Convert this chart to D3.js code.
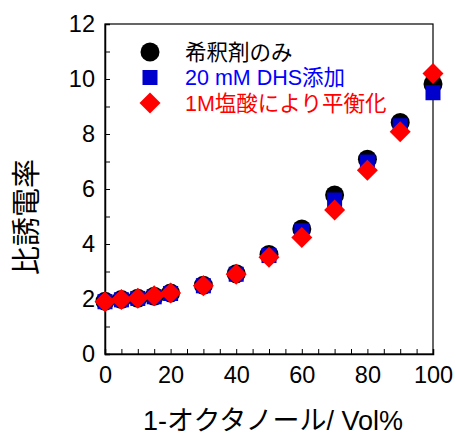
<!DOCTYPE html>
<html>
<head>
<meta charset="utf-8">
<script src="https://cdn.jsdelivr.net/npm/d3@7"></script>
<style>
  body { margin: 0; background: #fff; }
  text { font-family: "Liberation Sans", Arial, "Noto Sans CJK JP", sans-serif; }
</style>
</head>
<body>
<svg id="chart" width="456" height="436"></svg>
<script>
// データ
const octanol = [0, 5, 10, 15, 20, 30, 40, 50, 60, 70, 80, 90, 100];
const diluentOnly = [1.92, 1.98, 2.03, 2.1, 2.22, 2.5, 2.92, 3.62, 4.55, 5.78, 7.08, 8.42, 9.82];
const withDHS = [1.9, 1.97, 2.02, 2.08, 2.2, 2.48, 2.9, 3.58, 4.48, 5.6, 6.98, 8.3, 9.5];
const withHCl = [1.9, 1.98, 2.03, 2.12, 2.22, 2.48, 2.9, 3.52, 4.24, 5.24, 6.68, 8.08, 10.2];
const seriesNames = ["希釈剤のみ", "20 mM DHS添加", "1M塩酸により平衡化"];
const xTicks = [0, 20, 40, 60, 80, 100];
const yTicks = [0, 2, 4, 6, 8, 10, 12];

const M = { left: 105, right: 433, top: 24, bottom: 354 };
const svg = d3.select("#chart");

const x = d3.scaleLinear().domain([0, 100]).range([M.left, M.right]);
const y = d3.scaleLinear().domain([0, 12]).range([M.bottom, M.top]);

// 枠
svg.append("rect")
    .attr("x", M.left).attr("y", M.top)
    .attr("width", M.right - M.left).attr("height", M.bottom - M.top)
    .attr("fill", "none").attr("stroke", "#000").attr("stroke-width", 1.2);

// 軸（目盛りは内向き）
const xAxis = svg.append("g").attr("transform", `translate(0,${M.bottom})`)
    .call(d3.axisBottom(x).tickValues(d3.range(0, 101, 5)).tickSize(-5)
        .tickFormat(d => xTicks.includes(d) ? d : ""));
const yAxis = svg.append("g").attr("transform", `translate(${M.left},0)`)
    .call(d3.axisLeft(y).tickValues(d3.range(0, 13, 1)).tickSize(-5)
        .tickFormat(d => yTicks.includes(d) ? d : ""));

[xAxis, yAxis].forEach(g => {
    g.select(".domain").attr("stroke", "#000").attr("stroke-width", 1.5);
    g.selectAll(".tick line").attr("stroke", "#000");
    g.selectAll(".tick text").attr("font-size", 23.5).attr("fill", "#000")
        .style("font-family", "'Liberation Sans', Arial, sans-serif");
});
xAxis.selectAll(".tick text").attr("y", 12);
yAxis.selectAll(".tick text").attr("x", -10);

// 軸タイトル
svg.append("text")
    .attr("x", 273).attr("y", 430)
    .attr("text-anchor", "middle").attr("font-size", 27)
    .text("1-オクタノール/ Vol%");
svg.append("text")
    .attr("transform", "translate(37,217) rotate(-90)")
    .attr("text-anchor", "middle").attr("font-size", 29)
    .text("比誘電率");

// マーカー
const diamond = "M0,-10.5L10.5,0L0,10.5L-10.5,0Z";
const markers = [
    { data: diluentOnly, color: "#000", text: "#000",
      shape: g => g.append("circle").attr("r", 9.5) },
    { data: withDHS, color: "#0000cc", text: "#0000ff",
      shape: g => g.append("rect").attr("x", -7.5).attr("y", -7.5).attr("width", 15).attr("height", 15) },
    { data: withHCl, color: "#ff0000", text: "#ff0000",
      shape: g => g.append("path").attr("d", diamond) }
];

markers.forEach(m => {
    const pts = svg.append("g").attr("fill", m.color)
        .selectAll("g").data(octanol).join("g")
        .attr("transform", (d, i) => `translate(${x(d)},${y(m.data[i])})`);
    m.shape(pts);
});

// 凡例
const legend = svg.append("g");
markers.forEach((m, i) => {
    const ly = 52 + i * 25.5;
    const g = legend.append("g").attr("transform", `translate(150,${ly})`).attr("fill", m.color);
    m.shape(g);
    legend.append("text")
        .attr("x", 185).attr("y", ly).attr("dy", "0.36em")
        .attr("font-size", 21.5).attr("fill", m.text)
        .text(seriesNames[i]);
});
</script>
</body>
</html>
